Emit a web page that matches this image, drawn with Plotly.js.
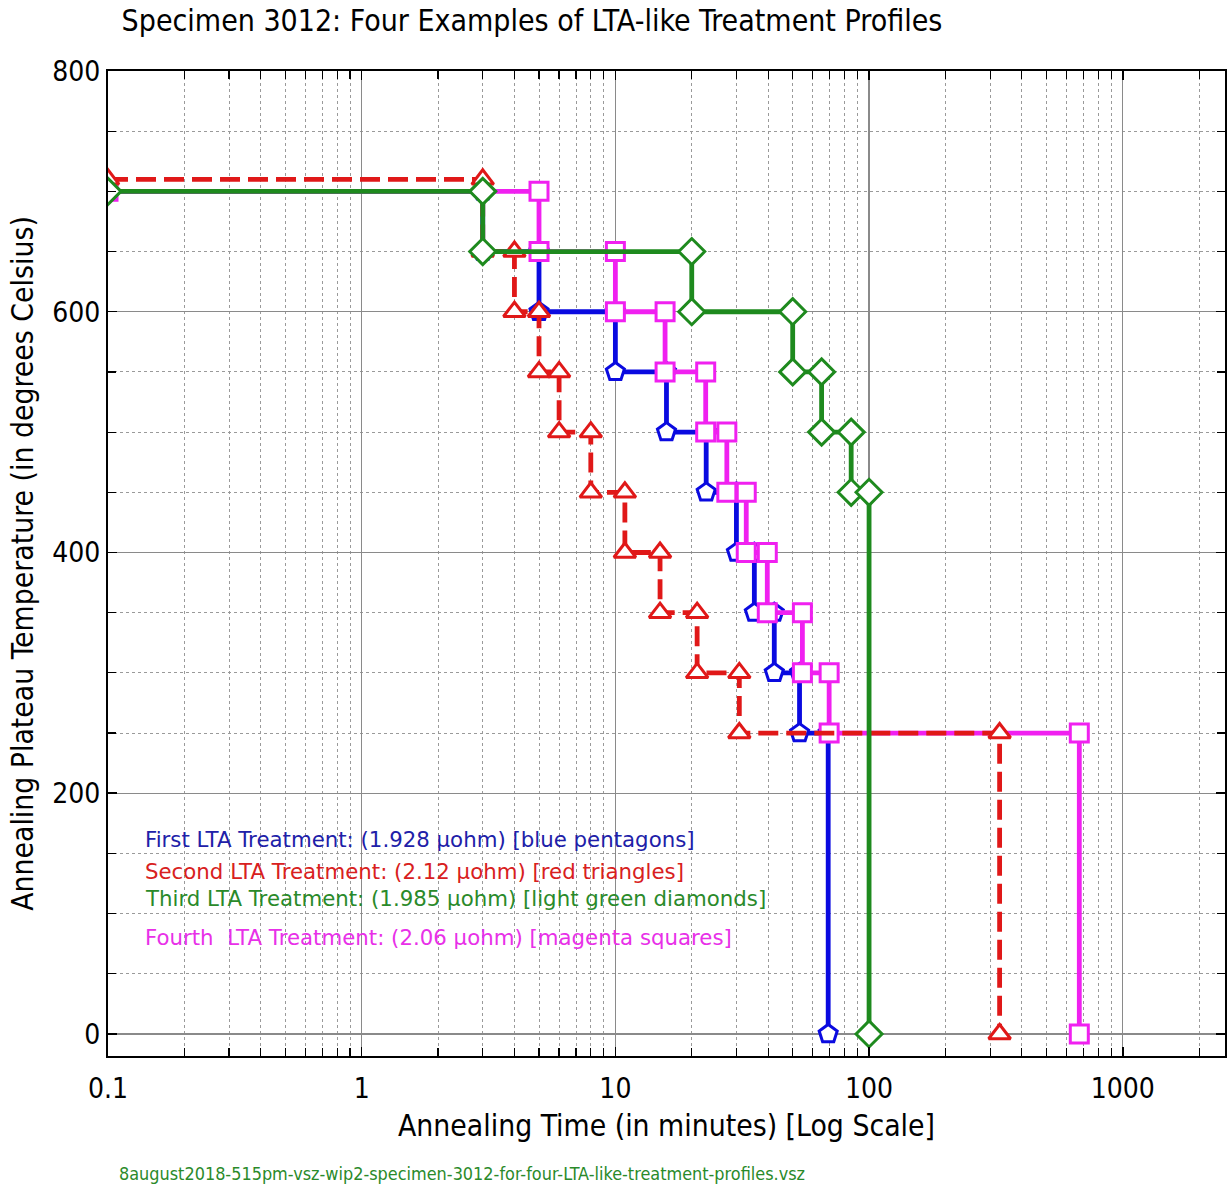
<!DOCTYPE html>
<html>
<head>
<meta charset="utf-8">
<script src="https://cdn.plot.ly/plotly-3.0.1.min.js"></script>
<style>html,body{margin:0;padding:0;background:#fff;}#chart{width:1228px;height:1186px;}</style>
</head>
<body>
<div id="chart"></div>
<script>
// ---- data ----
const blueX = [0.1, 3, 3, 5, 5, 10, 10, 15.9, 15.9, 22.8, 22.8, 30, 30, 35.3, 35.3, 42.3, 42.3, 53.2, 53.2, 69, 69];
const blueY = [700, 700, 650, 650, 600, 600, 550, 550, 500, 500, 450, 450, 400, 400, 350, 350, 300, 300, 250, 250, 0];

const redX = [0.1, 3, 3, 4, 4, 5, 5, 6, 6, 8, 8, 10.9, 10.9, 15, 15, 21, 21, 30.8, 30.8, 327, 327];
const redY = [710, 710, 650, 650, 600, 600, 550, 550, 500, 500, 450, 450, 400, 400, 350, 350, 300, 300, 250, 250, 0];

const greenX = [0.1, 3, 3, 20, 20, 50, 50, 65, 65, 85, 85, 100, 100];
const greenY = [700, 700, 650, 650, 600, 600, 550, 550, 500, 500, 450, 450, 0];

const magentaX = [0.1, 5, 5, 10, 10, 15.7, 15.7, 22.7, 22.7, 27.5, 27.5, 32.8, 32.8, 39.7, 39.7, 54.6, 54.6, 69.6, 69.6, 674, 674];
const magentaY = [700, 700, 650, 650, 600, 600, 550, 550, 500, 500, 450, 450, 400, 400, 350, 350, 300, 300, 250, 250, 0];

const legendLines = [
  "First LTA Treatment: (1.928 µohm) [blue pentagons]",
  "Second LTA Treatment: (2.12 µohm) [red triangles]",
  "Third LTA Treatment: (1.985 µohm) [light green diamonds]",
  "Fourth&nbsp;&nbsp;LTA Treatment: (2.06 µohm) [magenta squares]"
];
const xTickVals = [0.1, 1, 10, 100, 1000];
const xTickText = ["0.1", "1", "10", "100", "1000"];
const yTickVals = [0, 200, 400, 600, 800];

const chartTitle = "Specimen 3012: Four Examples of LTA-like Treatment Profiles";
const xTitle = "Annealing Time (in minutes) [Log Scale]";
const yTitle = "Annealing Plateau Temperature (in degrees Celsius)";
const footer = "8august2018-515pm-vsz-wip2-specimen-3012-for-four-LTA-like-treatment-profiles.vsz";

// ---- styling ----
const COND = "DejaVu Sans Condensed, DejaVu Sans, sans-serif";
const LEG = "DejaVu Sans, Verdana, sans-serif";
const cBlue = "#0a0ae0", cRed = "#e01818", cGreen = "#1e8a1e", cMag = "#f020f0";
const lgColors = ["#2020a8", "#d82020", "#2a8a2a", "#e830e8"];
const lgY = [0.2193, 0.1878, 0.1594, 0.1208];

// minor log tick positions (2..9 per decade)
const minorX = [];
for (let d = -1; d <= 3; d++) for (let k = 2; k <= 9; k++) { const v = k * Math.pow(10, d); if (v < 2600) minorX.push(v); }

function tr(x, y, color, symbol, size, dash) {
  return {
    x: x, y: y, type: "scatter", mode: "lines+markers",
    line: { color: color, width: 4.8, dash: dash || "solid" },
    marker: { symbol: symbol, size: size, color: "#ffffff", line: { color: color, width: 3 } },
    showlegend: false, hoverinfo: "x+y"
  };
}

const data = [
  tr(blueX, blueY, cBlue, "pentagon", 19),
  tr(magentaX, magentaY, cMag, "square", 18),
  tr(redX, redY, cRed, "triangle-up", 19, "20px,8px"),
  tr(greenX, greenY, cGreen, "diamond", 20)
];

const annotations = legendLines.map((t, i) => ({
  text: t, xref: "paper", yref: "paper", x: 0.0313, y: lgY[i],
  xanchor: "left", yanchor: "middle", showarrow: false,
  font: { family: LEG, size: 21.3, color: lgColors[i] }
}));
annotations.push({
  text: footer, xref: "paper", yref: "paper", x: (117 - 108) / 1117, y: -(1173 - 1056) / 985,
  xanchor: "left", yanchor: "middle", showarrow: false,
  font: { family: COND, size: 17.9, color: "#2a8a2a" }
});

const layout = {
  width: 1228, height: 1186,
  margin: { l: 108, r: 3, t: 71, b: 130 },
  paper_bgcolor: "#ffffff", plot_bgcolor: "#ffffff",
  title: { text: chartTitle, x: 532 / 1228, xanchor: "center", xref: "container", y: 1 - 20 / 1186, yref: "container", yanchor: "middle",
    font: { family: COND, size: 30, color: "#000" } },
  xaxis: {
    type: "log", range: [-1, 3.403],
    tickvals: xTickVals, ticktext: xTickText,
    ticks: "inside", ticklen: 9, tickwidth: 1.5, tickcolor: "#000",
    showline: true, linecolor: "#000", linewidth: 2, mirror: "allticks",
    showgrid: true, gridcolor: "#8a8a8a", gridwidth: 1.3,
    zeroline: false,
    tickfont: { family: COND, size: 28, color: "#000" },
    ticklabelstandoff: 6,
    minor: { tickvals: minorX, ticks: "inside", ticklen: 8, tickwidth: 1.2, tickcolor: "#000",
      showgrid: true, gridcolor: "#9a9a9a", gridwidth: 1, griddash: "dot" },
    title: { text: xTitle, font: { family: COND, size: 29.8, color: "#000" }, standoff: 12 }
  },
  yaxis: {
    range: [-18.3, 800],
    tickvals: yTickVals,
    ticks: "inside", ticklen: 9, tickwidth: 1.5, tickcolor: "#000",
    showline: true, linecolor: "#000", linewidth: 2, mirror: "allticks",
    showgrid: true, gridcolor: "#8a8a8a", gridwidth: 1.3,
    zeroline: false,
    tickfont: { family: COND, size: 28, color: "#000" },
    minor: { dtick: 50, ticks: "inside", ticklen: 8, tickwidth: 1.2, tickcolor: "#000",
      showgrid: true, gridcolor: "#9a9a9a", gridwidth: 1, griddash: "dot" },
    title: { text: yTitle, font: { family: COND, size: 29.8, color: "#000" }, standoff: 10 }
  },
  annotations: annotations,
  showlegend: false
};

Plotly.newPlot("chart", data, layout, { displayModeBar: false, staticPlot: true });
</script>
</body>
</html>
